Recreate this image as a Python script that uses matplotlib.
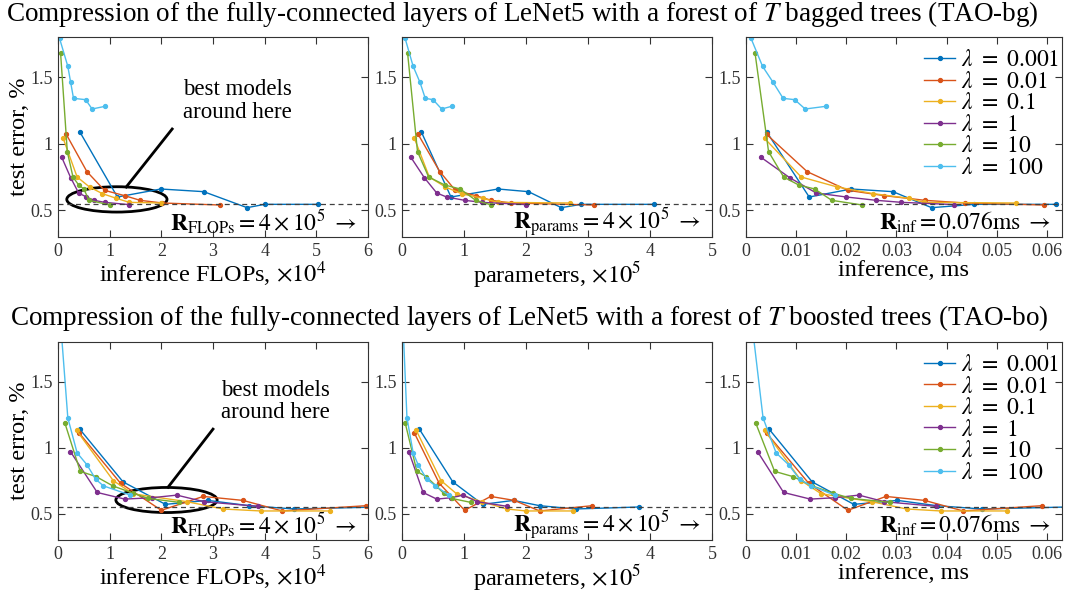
import matplotlib
matplotlib.use('Agg')
import matplotlib.pyplot as plt
from matplotlib.patches import Ellipse

plt.rcParams['font.family'] = ['Liberation Serif', 'DejaVu Serif']
plt.rcParams['mathtext.fontset'] = 'stix'

# series: lambda = 0.001, 0.01, 0.1, 1, 10, 100
lambdas = ['0.001', '0.01', '0.1', '1', '10', '100']
colors = ['#0072BD', '#D95319', '#EDB120', '#7E2F8E', '#77AC30', '#4DBEEE']

# --- TAO-bg (bagged trees), top row ---
bg_err = [
    [1.09, 0.60, 0.66, 0.64, 0.52, 0.545, 0.545],
    [1.07, 0.79, 0.65, 0.61, 0.575, 0.555, 0.54],
    [1.04, 0.75, 0.675, 0.625, 0.59, 0.56, 0.555],
    [0.90, 0.745, 0.63, 0.60, 0.575, 0.56, 0.543],
    [1.68, 0.94, 0.75, 0.69, 0.66, 0.575, 0.54],
    [1.79, 1.58, 1.46, 1.34, 1.33, 1.26, 1.28],
]
bg_flops = [  # x 1e4
    [0.42, 1.15, 1.99, 2.82, 3.66, 4.0, 5.03],
    [0.16, 0.56, 0.90, 1.29, 1.59, 2.02, 3.13],
    [0.10, 0.37, 0.61, 0.86, 1.13, 1.38, 2.0],
    [0.07, 0.245, 0.40, 0.55, 0.70, 0.90, 1.37],
    [0.05, 0.18, 0.29, 0.40, 0.50, 0.60, 1.01],
    [0.03, 0.19, 0.245, 0.30, 0.535, 0.66, 0.91],
]
bg_params = [  # x 1e5
    [0.31, 0.79, 1.55, 2.04, 2.57, 2.89, 4.06],
    [0.26, 0.61, 0.86, 1.19, 1.44, 1.76, 3.10],
    [0.20, 0.44, 0.70, 0.96, 1.30, 1.55, 2.71],
    [0.14, 0.36, 0.56, 0.72, 1.01, 1.29, 2.0],
    [0.09, 0.25, 0.43, 0.69, 0.94, 1.19, 1.44],
    [0.05, 0.18, 0.29, 0.375, 0.50, 0.64, 0.80],
]
bg_time = [  # ms
    [0.0041, 0.0126, 0.0210, 0.0293, 0.0370, 0.0455, 0.0619],
    [0.0041, 0.0122, 0.0203, 0.0276, 0.0357, 0.0436, 0.0594],
    [0.0037, 0.0110, 0.0182, 0.0254, 0.0325, 0.0355, 0.0539],
    [0.0029, 0.0087, 0.0140, 0.0200, 0.0260, 0.0310, 0.0415],
    [0.0018, 0.0045, 0.0075, 0.0105, 0.0137, 0.0171, 0.0232],
    [0.0010, 0.0033, 0.0054, 0.0074, 0.0097, 0.0118, 0.0159],
]

# --- TAO-bo (boosted trees), bottom row ---
bo_err = [
    [1.14, 0.74, 0.57, 0.60, 0.56, 0.535, 0.55],
    [1.11, 0.73, 0.525, 0.63, 0.60, 0.52, 0.56],
    [1.13, 0.75, 0.65, 0.59, 0.535, 0.52, 0.52],
    [0.97, 0.66, 0.61, 0.62, 0.64, 0.59, 0.555],
    [1.19, 0.82, 0.78, 0.71, 0.655, 0.615, 0.585],
    [2.0, 1.225, 0.96, 0.87, 0.76, 0.71, 0.64],
]
bo_flops = [
    [0.42, 1.26, 2.08, 2.90, 3.70, 4.57, 6.2],
    [0.41, 1.21, 2.0, 2.81, 3.58, 4.34, 5.97],
    [0.36, 1.07, 1.45, 2.50, 3.19, 3.92, 5.26],
    [0.24, 0.76, 1.29, 1.81, 2.30, 2.83, 3.87],
    [0.13, 0.43, 0.74, 1.06, 1.45, 1.75, 2.35],
    [0.04, 0.19, 0.37, 0.56, 0.73, 0.88, 1.4],
]
bo_params = [
    [0.28, 0.82, 1.30, 1.80, 2.22, 2.80, 3.82],
    [0.20, 0.60, 1.01, 1.43, 1.81, 2.22, 3.07],
    [0.23, 0.63, 0.88, 1.29, 1.69, 2.0, 2.76],
    [0.11, 0.34, 0.56, 0.79, 0.99, 1.21, 1.70],
    [0.05, 0.24, 0.39, 0.55, 0.67, 0.80, 1.11],
    [0.01, 0.08, 0.18, 0.26, 0.40, 0.54, 0.75],
]
bo_time = [
    [0.0046, 0.0132, 0.0215, 0.0302, 0.0380, 0.0470, 0.0640],
    [0.0041, 0.0125, 0.0203, 0.0279, 0.0356, 0.0433, 0.0590],
    [0.0037, 0.0110, 0.0150, 0.0251, 0.0320, 0.0388, 0.0520],
    [0.0023, 0.0075, 0.0128, 0.0177, 0.0225, 0.0276, 0.0379],
    [0.0019, 0.0057, 0.0094, 0.0132, 0.0173, 0.0210, 0.0288],
    [0.0010, 0.0034, 0.0060, 0.0085, 0.0107, 0.0130, 0.0177],
]

ref_err = 0.55

titles = [
    r'Compression of the fully-connected layers of LeNet5 with a forest of $T$ bagged trees (TAO-bg)',
    r'Compression of the fully-connected layers of LeNet5 with a forest of $T$ boosted trees (TAO-bo)',
]
xlabels = [r'inference FLOPs, $\times10^4$', r'parameters, $\times10^5$', 'inference, ms']
r_texts = [r'$\mathbf{R}_{\mathrm{FLOPs}} = 4\times10^5\ \rightarrow$',
           r'$\mathbf{R}_{\mathrm{params}} = 4\times10^5\ \rightarrow$',
           r'$\mathbf{R}_{\mathrm{inf}} = 0.076\mathrm{ms}\ \rightarrow$']
xlims = [(0, 6), (0, 5), (0, 0.063)]
xticks = [[0, 1, 2, 3, 4, 5, 6], [0, 1, 2, 3, 4, 5],
          [0, 0.01, 0.02, 0.03, 0.04, 0.05, 0.06]]
xticklabels = [['0', '1', '2', '3', '4', '5', '6'], ['0', '1', '2', '3', '4', '5'],
               ['0', '0.01', '0.02', '0.03', '0.04', '0.05', '0.06']]

W, H = 1065, 594
fig = plt.figure(figsize=(W / 100, H / 100), dpi=100)

col_px = [(58, 310), (402, 310), (746, 316)]
row_px = [(37, 200), (342, 198)]
title_px = [(522, 14), (529, 318)]

rows = [(bg_err, [bg_flops, bg_params, bg_time]),
        (bo_err, [bo_flops, bo_params, bo_time])]
# ellipse centre/size, pointer line and text position, in data units of the left panel
callouts = [
    dict(center=(1.14, 0.582), w=1.94, h=0.19, line=[(1.32, 0.675), (2.21, 1.11)], text=(3.47, 1.32)),
    dict(center=(2.10, 0.603), w=1.96, h=0.19, line=[(2.13, 0.70), (3.0, 1.14)], text=(4.2, 1.35)),
]

for r, (err, xs_list) in enumerate(rows):
    top, h = row_px[r]
    fig.text(title_px[r][0] / W, 1 - title_px[r][1] / H, titles[r],
             ha='center', va='center', fontsize=19.5)
    for c in range(3):
        left, w = col_px[c]
        ax = fig.add_axes([left / W, 1 - (top + h) / H, w / W, h / H])
        xs = xs_list[c]
        for k in range(6):
            ax.plot(xs[k], err[k], '-o', color=colors[k], lw=1.0, ms=2.8,
                    label=r'$\lambda\ =\ ' + lambdas[k] + '$')
        ax.axhline(ref_err, color='#404040', lw=0.9, ls=(0, (4, 3)))
        ax.set_xlim(*xlims[c])
        ax.set_ylim(0.3, 1.8)
        ax.set_xticks(xticks[c])
        ax.set_xticklabels(xticklabels[c])
        ax.set_yticks([0.5, 1, 1.5])
        ax.set_yticklabels(['0.5', '1', '1.5'])
        ax.tick_params(direction='in', top=True, right=True, length=5, width=0.8,
                       labelsize=13, colors='#333333', pad=4)
        for s in ax.spines.values():
            s.set_color('#333333')
            s.set_linewidth(0.8)
        ax.set_xlabel(xlabels[c], fontsize=17.5, labelpad=0)
        ax.text(0.965, 0.075, r_texts[c], transform=ax.transAxes, ha='right',
                va='center', fontsize=17)
        if c == 0:
            ax.set_ylabel('test error, %', fontsize=17.5)
            ax.yaxis.set_label_coords(-0.09, 0.5)
            co = callouts[r]
            ax.add_patch(Ellipse(co['center'], co['w'], co['h'], fill=False,
                                 ec='black', lw=2))
            (x0, y0), (x1, y1) = co['line']
            ax.plot([x0, x1], [y0, y1], color='black', lw=2)
            ax.text(co['text'][0], co['text'][1], 'best models\naround here',
                    ha='center', va='center', fontsize=16.5, linespacing=1.1)
        if c == 2:
            ax.legend(loc='upper right', bbox_to_anchor=(1.005, 0.96), frameon=False,
                      fontsize=17, handlelength=1.3, handletextpad=0.25,
                      labelspacing=0.0, borderaxespad=0.05, borderpad=0.15)

fig.savefig('out.png', dpi=100)
